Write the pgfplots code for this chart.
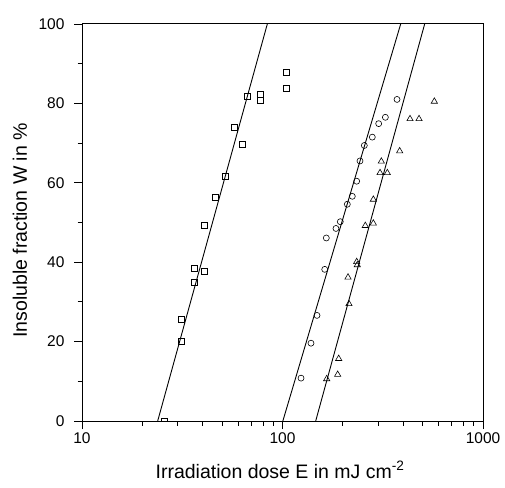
\documentclass[border=0pt]{standalone}
\usepackage{fontspec}
\setmainfont{Liberation Sans}
\usepackage{pgfplots}
\pgfplotsset{compat=1.18}

\begin{document}
\begin{tikzpicture}
\begin{axis}[
    at={(0,0)}, anchor=south west,
    scale only axis,
    width=401pt, height=397pt,
    xmode=log, log basis x=10,
    xmin=10, xmax=1000,
    ymin=0, ymax=100,
    xtick={10,100,1000},
    xticklabels={10,100,1000},
    minor xtick={20,30,40,50,60,70,80,90,200,300,400,500,600,700,800,900},
    ytick={0,20,40,60,80,100},
    minor ytick={10,30,50,70,90},
    xtick pos=bottom, ytick pos=left,
    tick align=outside,
    major tick length=8pt,
    minor tick length=4.5pt,
    every tick/.style={black, line width=0.9pt},
    axis line style={line width=1pt},
    clip marker paths=true,
    /pgf/number format/assume math mode=true,
    ticklabel style={font=\fontsize{15.5}{18}\selectfont},
    yticklabel style={xshift=-6pt},
    xlabel={Irradiation dose E in mJ cm\textsuperscript{-2}},
    ylabel={Insoluble fraction W in \%},
    label style={font=\fontsize{19.5}{22}\selectfont},
    xlabel style={at={(axis description cs:0.494,-0.123)}, anchor=center},
    ylabel style={at={(axis description cs:-0.155,0.48)}, anchor=center, rotate=0},
]
% squares
\addplot[only marks, mark=square, mark size=3pt, mark options={line width=0.6pt}]
    coordinates {
      (25.6,0) (31.2,20.2) (31.2,25.7) (36.4,34.9) (36.5,38.4) (40.9,37.8)
      (40.9,49.4) (46.4,56.3) (51.7,61.6) (57.3,73.9) (63.0,69.7) (67.0,81.8)
      (77.8,82.3) (77.8,80.8) (105,83.9) (105,87.9)
    };
% circles
\addplot[only marks, mark=o, mark size=3pt, mark options={line width=0.6pt}]
    coordinates {
      (123.7,10.8) (138.7,19.6) (148.6,26.6) (162.4,38.2) (165.4,46.1)
      (184.8,48.5) (194.2,50.2) (210.5,54.6) (222.9,56.6) (234.4,60.4)
      (243.5,65.5) (255.9,69.4) (280.5,71.5) (301.8,74.9) (325.9,76.5)
      (372.5,81.0)
    };
% triangles
\addplot[only marks, mark=triangle, mark size=3.6pt, mark options={line width=0.6pt}]
    coordinates {
      (166.1,10.6) (188.5,11.7) (190.7,15.7) (214.6,29.5) (212.2,36.2)
      (234.4,40.1) (236,39.3) (258.8,49.2) (283.8,49.8) (283.8,55.8)
      (306.5,62.5) (333.4,62.5) (311.1,65.4) (384.1,68.0) (432.5,76.1)
      (479.7,76.1) (571.8,80.5)
    };
% fitted lines
\addplot[black, line width=0.9pt] coordinates {(23.85,0) (84,100)};
\addplot[black, line width=0.9pt] coordinates {(100.4,0) (388.6,100)};
\addplot[black, line width=0.9pt] coordinates {(146.4,0) (511.7,100)};
\end{axis}
\pgfresetboundingbox
\path (-82pt,-66pt) rectangle (423pt,421pt);
\end{tikzpicture}
\end{document}
